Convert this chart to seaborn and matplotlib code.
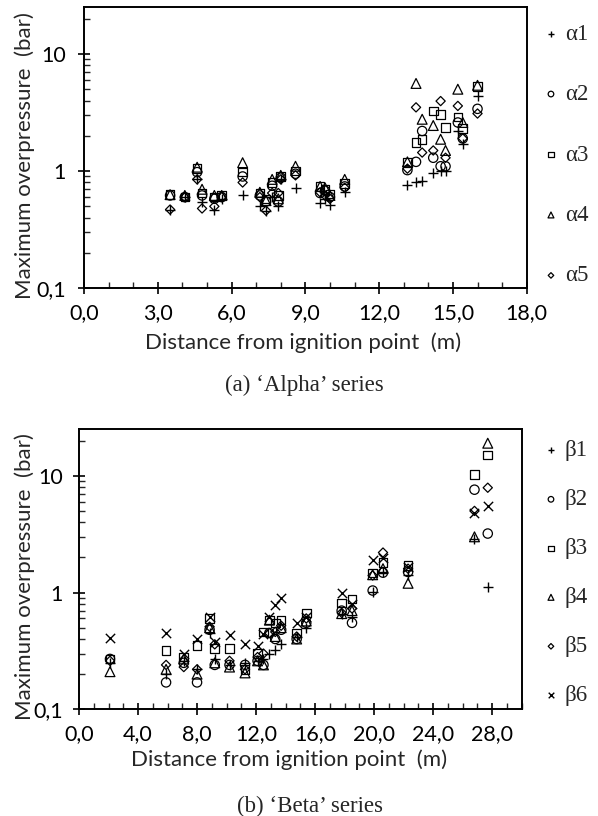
import numpy as np
import pandas as pd
import matplotlib
matplotlib.use("Agg")
import matplotlib.pyplot as plt
import matplotlib.ticker as mticker
import seaborn as sns

# ---------------- data ----------------
alpha_x = [3.5, 4.1, 4.6, 4.8, 5.3, 5.6, 6.45, 7.15, 7.4, 7.65, 7.9, 8.0, 8.6,
           9.6, 9.8, 10.0, 10.6, 13.15, 13.5, 13.75, 14.2, 14.5, 14.7, 15.2, 15.4, 16.0]
alpha1 = [0.47, 0.60, 0.85, 0.55, 0.47, 0.58, 0.62, 0.50, 0.46, 0.60, 0.50, 0.85, 0.72,
          0.53, 0.58, 0.51, 0.66, 0.76, 0.80, 0.82, 0.97, 1.00, 1.00, 2.20, 1.70, 4.40]
alpha2 = [0.62, 0.60, 0.98, 0.62, 0.58, 0.60, 0.90, 0.62, 0.55, 0.75, 0.55, 0.88, 0.95,
          0.65, 0.68, 0.60, 0.74, 1.02, 1.20, 2.20, 1.30, 1.10, 1.10, 2.60, 1.90, 3.40]
alpha3 = [0.63, 0.60, 1.05, 0.65, 0.60, 0.62, 0.98, 0.65, 0.58, 0.80, 0.62, 0.90, 1.00,
          0.74, 0.70, 0.64, 0.78, 1.19, 1.75, 1.87, 3.26, 3.05, 2.35, 2.90, 2.30, 5.30]
alpha4 = [0.63, 0.62, 1.08, 0.70, 0.62, 0.62, 1.18, 0.66, 0.56, 0.85, 0.58, 0.92, 1.10,
          0.74, 0.72, 0.62, 0.85, 1.20, 5.60, 2.77, 2.45, 1.87, 1.50, 5.00, 2.60, 5.40]
alpha5 = [0.47, 0.60, 0.85, 0.48, 0.50, 0.60, 0.80, 0.60, 0.46, 0.65, 0.65, 0.85, 0.92,
          0.66, 0.62, 0.58, 0.72, 1.05, 3.50, 1.44, 1.50, 3.96, 1.30, 3.60, 1.90, 3.10]
alpha_labels = ["\u03b11", "\u03b12", "\u03b13", "\u03b14", "\u03b15"]

beta_x = [2.1, 5.9, 7.1, 8.0, 8.85, 9.2, 10.2, 11.25, 12.1, 12.5, 12.9, 13.3, 13.7,
          14.75, 15.4, 17.8, 18.5, 19.9, 20.6, 22.3, 26.8, 27.7]
beta1 = [0.25, 0.20, 0.26, 0.22, 0.45, 0.27, 0.24, 0.25, 0.26, 0.27, 0.30, 0.32, 0.36,
         0.42, 0.50, 0.65, 0.62, 1.02, 1.50, 1.40, 2.9, 1.12]
beta2 = [0.27, 0.17, 0.25, 0.17, 0.48, 0.24, 0.24, 0.24, 0.26, 0.24, 0.45, 0.40, 0.48,
         0.40, 0.55, 0.70, 0.55, 1.04, 1.48, 1.50, 7.6, 3.2]
beta3 = [0.27, 0.32, 0.28, 0.35, 0.60, 0.33, 0.33, 0.22, 0.30, 0.46, 0.58, 0.55, 0.58,
         0.45, 0.67, 0.81, 0.88, 1.47, 1.80, 1.70, 10.2, 15.0]
beta4 = [0.21, 0.22, 0.27, 0.20, 0.50, 0.25, 0.23, 0.205, 0.26, 0.24, 0.58, 0.42, 0.50,
         0.40, 0.57, 0.66, 0.70, 1.42, 1.60, 1.20, 3.0, 19.0]
beta5 = [0.26, 0.24, 0.23, 0.22, 0.51, 0.36, 0.26, 0.22, 0.28, 0.30, 0.45, 0.46, 0.52,
         0.42, 0.60, 0.67, 0.73, 1.40, 2.20, 1.60, 5.0, 7.9]
beta6 = [0.41, 0.45, 0.30, 0.40, 0.62, 0.38, 0.43, 0.36, 0.35, 0.44, 0.62, 0.78, 0.90,
         0.55, 0.62, 1.00, 0.80, 1.90, 1.98, 1.65, 4.8, 5.5]
beta_labels = ["\u03b21", "\u03b22", "\u03b23", "\u03b24", "\u03b25", "\u03b26"]

x_ticks_a = [0, 3, 6, 9, 12, 15, 18]
x_ticks_b = [0, 4, 8, 12, 16, 20, 24, 28]
y_ticks = [0.1, 1, 10]
y_tick_labels = ["0,1", "1", "10"]

# ---------------- style ----------------
sns.set_style("ticks")
plt.rcParams["font.family"] = ["Lato", "DejaVu Sans"]
SANS = ["Lato", "DejaVu Sans"]
SERIF = ["Liberation Serif", "DejaVu Serif"]

markers = ["+", "o", "s", "^", "D", "x"]
sizes = {"+": 60, "o": 45, "s": 38, "^": 50, "D": 22, "x": 45}

fig = plt.figure(figsize=(5.98, 8.16), dpi=100)
W, H = 598.0, 816.0
ax1 = fig.add_axes([84 / W, 1 - 288.3 / H, 442.7 / W, 281 / H])
ax2 = fig.add_axes([79 / W, 1 - 709.3 / H, 442.7 / W, 280 / H])


def draw(ax, xs, series, labels):
    for ys, lab, m in zip(series, labels, markers):
        df = pd.DataFrame({"x": xs, "y": ys})
        if m in ("+", "x"):
            sns.scatterplot(data=df, x="x", y="y", marker=m, s=sizes[m],
                            color="black", linewidth=1.0, ax=ax, label=lab)
        else:
            sns.scatterplot(data=df, x="x", y="y", marker=m, s=sizes[m],
                            facecolor="none", edgecolor="black", linewidth=0.9,
                            ax=ax, label=lab)


def style(ax, xlim, xticks, labelspacing, legend_x, legend_y, ylab_x, xlab_xy, ypad):
    ax.set_yscale("log")
    ax.set_ylim(0.1, 25)
    ax.set_xlim(*xlim)
    ax.set_xticks(xticks)
    ax.xaxis.set_major_formatter(mticker.FuncFormatter(lambda v, p: f"{v:.1f}".replace(".", ",")))
    ax.xaxis.set_minor_locator(mticker.MultipleLocator(1))
    ax.set_yticks(y_ticks)
    ax.set_yticklabels(y_tick_labels)
    ax.yaxis.set_minor_locator(mticker.LogLocator(base=10, subs=np.arange(2, 10)))
    ax.yaxis.set_minor_formatter(mticker.NullFormatter())
    ax.tick_params(which="major", direction="inout", length=8, width=1.2,
                   labelsize=15.5, colors="black")
    ax.tick_params(which="minor", direction="in", length=4, width=1.0)
    ax.tick_params(axis="x", which="major", pad=6.5)
    ax.tick_params(axis="y", which="major", pad=ypad)
    ax.tick_params(top=False, right=False, which="both")
    for sp in ax.spines.values():
        sp.set_visible(True)
        sp.set_linewidth(1.4)
        sp.set_color("black")
    for t in ax.get_xticklabels() + ax.get_yticklabels():
        t.set_fontfamily(SANS)
    ax.set_xlabel("Distance from ignition point  (m)", fontsize=16, family=SANS)
    ax.set_ylabel("Maximum overpressure  (bar)", fontsize=16, family=SANS)
    ax.xaxis.set_label_coords(*xlab_xy)
    ax.xaxis.label.set_verticalalignment("center")
    ax.yaxis.set_label_coords(ylab_x, 0.473)
    ax.yaxis.label.set_verticalalignment("center")
    leg = ax.legend(loc="center left", bbox_to_anchor=(legend_x, legend_y), frameon=False,
                    markerscale=0.6, labelspacing=labelspacing, handletextpad=0.31,
                    handlelength=0.6, borderaxespad=0.0, borderpad=0.0,
                    prop={"family": SERIF, "size": 16.5})
    return leg


draw(ax1, alpha_x, [alpha1, alpha2, alpha3, alpha4, alpha5], alpha_labels)
style(ax1, (0, 18), x_ticks_a, 1.72, 1.0393, 0.4744, -0.1333, (0.495, -0.195), 9)
draw(ax2, beta_x, [beta1, beta2, beta3, beta4, beta5, beta6], beta_labels)
style(ax2, (0, 30), x_ticks_b, 1.22, 1.0506, 0.4857, -0.122, (0.474, -0.181), 7.5)

fig.text(304 / W, 1 - 385 / H, "(a) \u2018Alpha\u2019 series", ha="center", va="center",
         family=SERIF, fontsize=16.5)
fig.text(310 / W, 1 - 806 / H, "(b) \u2018Beta\u2019 series", ha="center", va="center",
         family=SERIF, fontsize=16.5)

fig.savefig("out.png", dpi=100)
